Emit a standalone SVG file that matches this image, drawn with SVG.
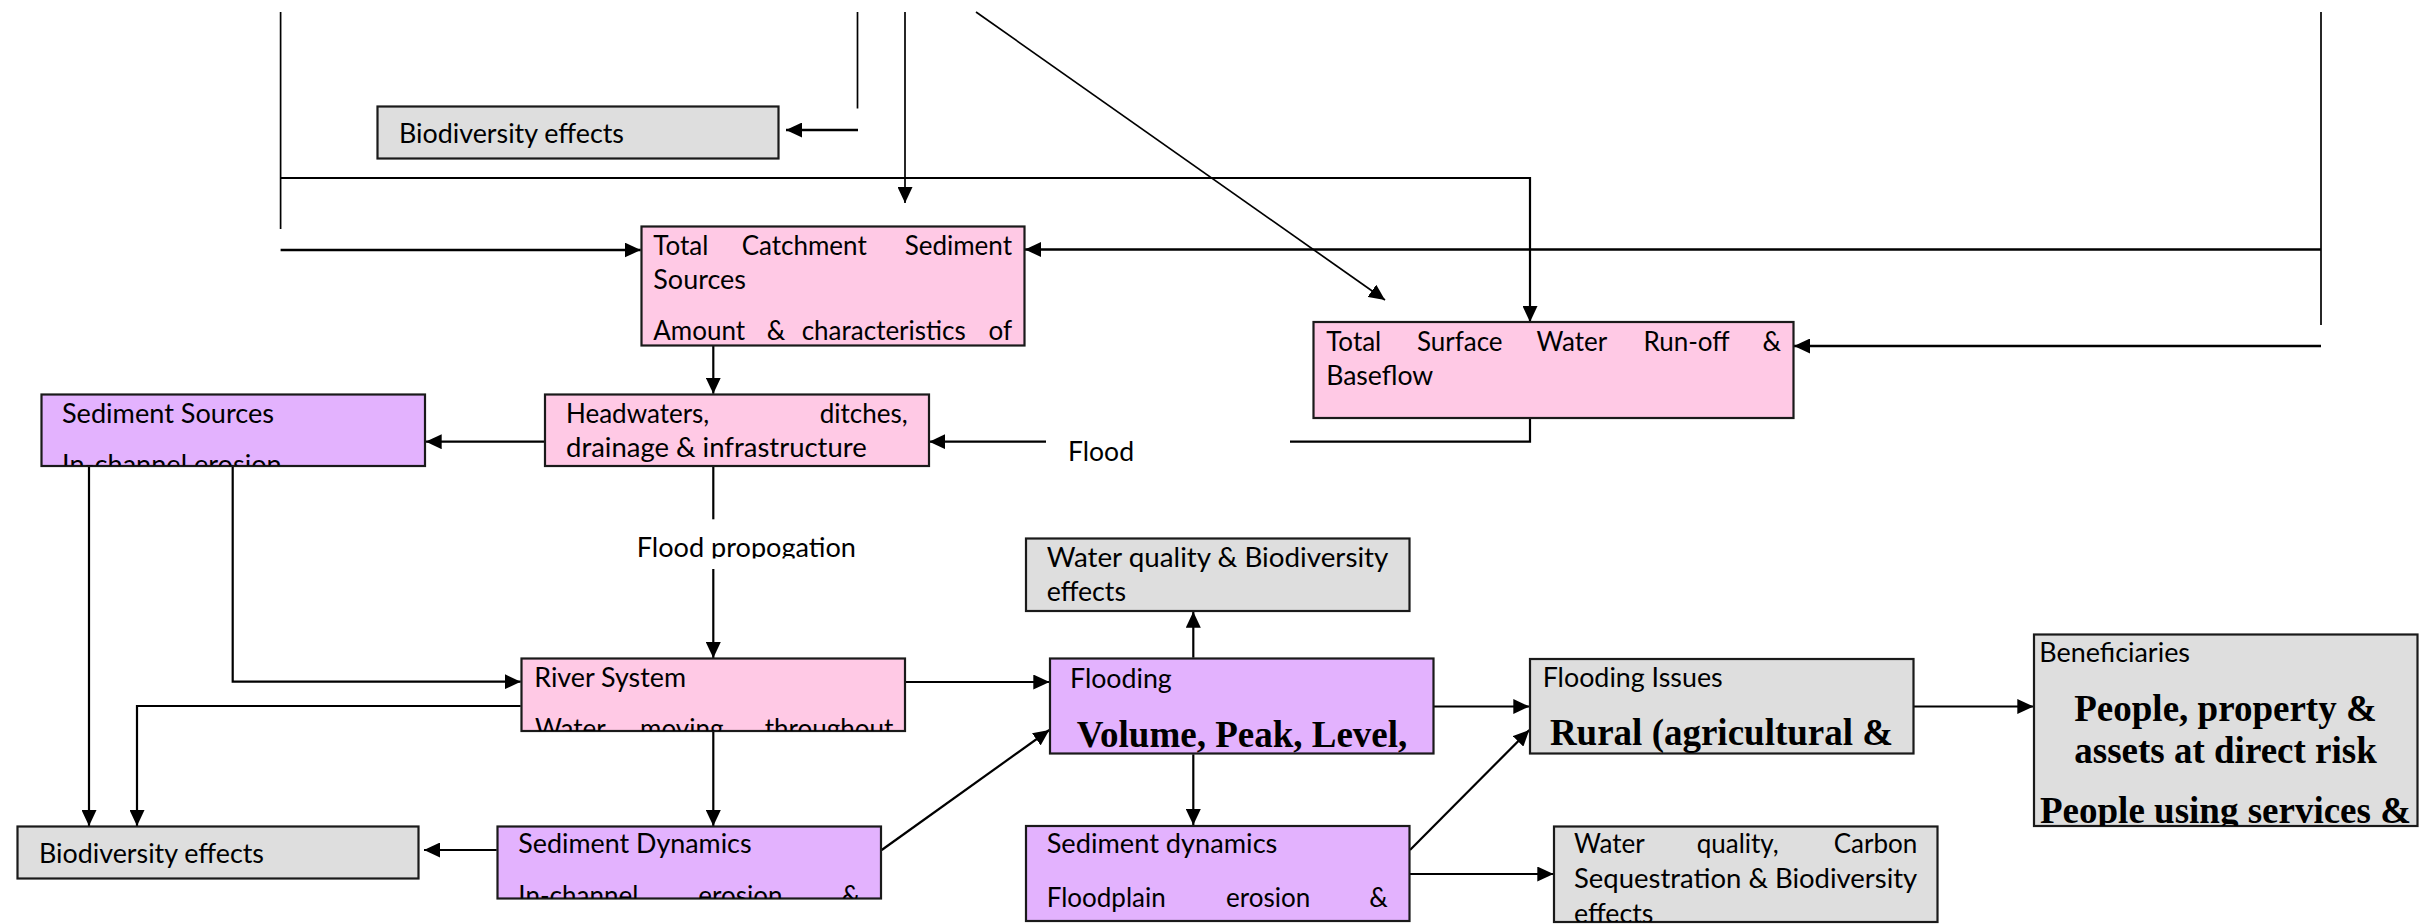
<svg xmlns="http://www.w3.org/2000/svg" width="2421" height="924" viewBox="0 0 2421 924">
  <style>
    .box { stroke: #1a1a1a; stroke-width: 2.2; }
    .pink { fill: #FFC9E5; }
    .purple { fill: #E3B2FE; }
    .grey { fill: #DEDEDE; }
    .t { font-family: Lato, "Open Sans", sans-serif; font-size: 26px; fill: #000; }
    .b { font-family: "Liberation Serif", "Times New Roman", serif; font-size: 37px; font-weight: bold; fill: #000; text-anchor: middle; }
    .end { text-anchor: end; }
    .ln { fill: none; stroke: #000; stroke-width: 2.2; }
    .thin { stroke-width: 1.7; }
    .thick { stroke-width: 2.6; }
    .arr { marker-end: url(#head); }
  </style>
  <defs>
    <marker id="head" markerUnits="userSpaceOnUse" markerWidth="16" markerHeight="15" refX="16" refY="7.5" orient="auto">
      <path d="M0,0 L16,7.5 L0,15 z" fill="#000"/>
    </marker>
    <clipPath id="c-catch"><rect x="642" y="227" width="382" height="118"/></clipPath>
    <clipPath id="c-surf"><rect x="1314" y="323" width="479" height="94"/></clipPath>
    <clipPath id="c-sedsrc"><rect x="42" y="395" width="383" height="70.5"/></clipPath>
    <clipPath id="c-head"><rect x="545" y="395" width="384" height="70.5"/></clipPath>
    <clipPath id="c-river"><rect x="522" y="659" width="383" height="72"/></clipPath>
    <clipPath id="c-seddyn"><rect x="498" y="827" width="383" height="71.5"/></clipPath>
    <clipPath id="c-flood"><rect x="1050" y="659" width="383" height="94.5"/></clipPath>
    <clipPath id="c-seddyn2"><rect x="1026" y="826.5" width="383" height="94.5"/></clipPath>
    <clipPath id="c-issues"><rect x="1530" y="659.5" width="383" height="94"/></clipPath>
    <clipPath id="c-carbon"><rect x="1554" y="827" width="383" height="95"/></clipPath>
    <clipPath id="c-benef"><rect x="2034" y="635" width="383" height="191"/></clipPath>
    <clipPath id="c-prop"><rect x="620" y="525" width="260" height="33.5"/></clipPath>
  </defs>

  <!-- connectors -->
  <g id="connectors">
    <path class="ln thin" d="M280.6,12 V229"/>
    <path class="ln arr" d="M280.6,178 H1530 V322"/>
    <path class="ln thick arr" d="M280.6,250 H640.7"/>
    <path class="ln thin" d="M857.5,12 V108.5"/>
    <path class="ln thick arr" d="M858,130 H786"/>
    <path class="ln thin arr" d="M905,12 V203"/>
    <path class="ln thin arr" d="M976,12 L1385,300"/>
    <path class="ln thin" d="M2321,12 V325"/>
    <path class="ln thick arr" d="M2321,249.5 H1025"/>
    <path class="ln thick arr" d="M2321,346 H1794"/>
    <path class="ln" d="M1530,418.3 V441.7 H1290"/>
    <path class="ln arr" d="M1046,441.7 H929.3"/>
    <path class="ln arr" d="M713.3,346 V393.7"/>
    <path class="ln arr" d="M544.3,441.7 H425.7"/>
    <path class="ln" d="M713.3,466 V519.3"/>
    <path class="ln arr" d="M713.3,569 V658"/>
    <path class="ln arr" d="M89,466.3 V826"/>
    <path class="ln arr" d="M232.7,466.3 V681.7 H520.7"/>
    <path class="ln arr" d="M520.7,706 H137 V826"/>
    <path class="ln arr" d="M905.7,682 H1049.3"/>
    <path class="ln arr" d="M713.3,731.7 V826"/>
    <path class="ln arr" d="M496.7,850 H424"/>
    <path class="ln arr" d="M881.7,850 L1049.3,730"/>
    <path class="ln arr" d="M1193.3,657.7 V611.7"/>
    <path class="ln arr" d="M1193.3,754.3 V825"/>
    <path class="ln arr" d="M1434,706.5 H1529.3"/>
    <path class="ln arr" d="M1410,850 L1529.3,730"/>
    <path class="ln arr" d="M1410,874 H1553.3"/>
    <path class="ln arr" d="M1914,706.5 H2033.3"/>
    <text class="t" x="1068" y="461" textLength="66" lengthAdjust="spacingAndGlyphs">Flood</text>
    <text class="t" x="636.7" y="556.7" textLength="219.3" lengthAdjust="spacingAndGlyphs" clip-path="url(#c-prop)">Flood propogation</text>
  </g>

  <g id="biodiversity-top">
    <rect class="box grey" x="377.5" y="106.5" width="401" height="52"/>
    <text class="t" x="399" y="143.3" textLength="225" lengthAdjust="spacingAndGlyphs">Biodiversity effects</text>
  </g>

  <g id="catchment-sediment">
    <rect class="box pink" x="641.5" y="226.5" width="383" height="119"/>
    <g clip-path="url(#c-catch)">
      <text class="t" y="255"><tspan x="653.3">Total</tspan><tspan x="741.7">Catchment</tspan></text>
      <text class="t end" x="1012" y="255">Sediment</text>
      <text class="t" x="653.3" y="289.3" textLength="92.7" lengthAdjust="spacingAndGlyphs">Sources</text>
      <text class="t" y="340"><tspan x="653.3">Amount</tspan><tspan x="766.7">&amp;</tspan><tspan x="801.7">characteristics</tspan></text>
      <text class="t end" x="1012" y="340">of</text>
    </g>
  </g>

  <g id="surface-runoff">
    <rect class="box pink" x="1313.5" y="322" width="480" height="96"/>
    <g clip-path="url(#c-surf)">
      <text class="t" y="350.7"><tspan x="1326.2">Total</tspan><tspan x="1416.9">Surface</tspan><tspan x="1536.5">Water</tspan><tspan x="1643.4">Run-off</tspan></text>
      <text class="t end" x="1781" y="350.7">&amp;</text>
      <text class="t" x="1326.2" y="385" textLength="107" lengthAdjust="spacingAndGlyphs">Baseflow</text>
    </g>
  </g>

  <g id="sediment-sources">
    <rect class="box purple" x="41.5" y="394.5" width="383.5" height="71.5"/>
    <g clip-path="url(#c-sedsrc)">
      <text class="t" x="62" y="422.7" textLength="212" lengthAdjust="spacingAndGlyphs">Sediment Sources</text>
      <text class="t" x="62" y="473.7" textLength="219.7" lengthAdjust="spacingAndGlyphs">In-channel erosion</text>
    </g>
  </g>

  <g id="headwaters">
    <rect class="box pink" x="545" y="394.5" width="384" height="71.5"/>
    <g clip-path="url(#c-head)">
      <text class="t" x="566" y="422.7">Headwaters,</text>
      <text class="t end" x="907.7" y="422.7">ditches,</text>
      <text class="t" x="566" y="456.7" textLength="300.7" lengthAdjust="spacingAndGlyphs">drainage &amp; infrastructure</text>
    </g>
  </g>

  <g id="river-system">
    <rect class="box pink" x="521.5" y="658.5" width="383.5" height="72.5"/>
    <g clip-path="url(#c-river)">
      <text class="t" x="534.3" y="686.7" textLength="151.7" lengthAdjust="spacingAndGlyphs">River System</text>
      <text class="t" y="738"><tspan x="535">Water</tspan><tspan x="640">moving</tspan></text>
      <text class="t end" x="893.3" y="738">throughout</text>
    </g>
  </g>

  <g id="biodiversity-bottom">
    <rect class="box grey" x="17.5" y="826.5" width="401" height="52"/>
    <text class="t" x="39" y="862.7" textLength="225" lengthAdjust="spacingAndGlyphs">Biodiversity effects</text>
  </g>

  <g id="sediment-dynamics-channel">
    <rect class="box purple" x="497.5" y="826.5" width="383.5" height="72"/>
    <g clip-path="url(#c-seddyn)">
      <text class="t" x="518.3" y="853.3" textLength="233.3" lengthAdjust="spacingAndGlyphs">Sediment Dynamics</text>
      <text class="t" y="905"><tspan x="518.3">In-channel</tspan><tspan x="698.3">erosion</tspan></text>
      <text class="t end" x="860" y="905">&amp;</text>
    </g>
  </g>

  <g id="water-quality-biodiversity">
    <rect class="box grey" x="1026" y="538.5" width="383.5" height="72.5"/>
    <text class="t" x="1046.7" y="566.7" textLength="341.7" lengthAdjust="spacingAndGlyphs">Water quality &amp; Biodiversity</text>
    <text class="t" x="1046.7" y="601" textLength="79.3" lengthAdjust="spacingAndGlyphs">effects</text>
  </g>

  <g id="flooding">
    <rect class="box purple" x="1050" y="658.5" width="383.5" height="95"/>
    <g clip-path="url(#c-flood)">
      <text class="t" x="1070" y="688.3" textLength="101.7" lengthAdjust="spacingAndGlyphs">Flooding</text>
      <text class="b" x="1242" y="746.7">Volume, Peak, Level,</text>
    </g>
  </g>

  <g id="sediment-dynamics-floodplain">
    <rect class="box purple" x="1026" y="826" width="383.5" height="95"/>
    <g clip-path="url(#c-seddyn2)">
      <text class="t" x="1046.7" y="853.3" textLength="230.7" lengthAdjust="spacingAndGlyphs">Sediment dynamics</text>
      <text class="t" y="906.7"><tspan x="1046.7">Floodplain</tspan><tspan x="1226">erosion</tspan></text>
      <text class="t end" x="1387.7" y="906.7">&amp;</text>
    </g>
  </g>

  <g id="flooding-issues">
    <rect class="box grey" x="1530" y="659" width="383.5" height="94.5"/>
    <g clip-path="url(#c-issues)">
      <text class="t" x="1542.7" y="686.7" textLength="180" lengthAdjust="spacingAndGlyphs">Flooding Issues</text>
      <text class="b" x="1721.5" y="745">Rural (agricultural &amp;</text>
    </g>
  </g>

  <g id="water-quality-carbon">
    <rect class="box grey" x="1554" y="826.5" width="383.5" height="95.5"/>
    <g clip-path="url(#c-carbon)">
      <text class="t" y="853.3"><tspan x="1574">Water</tspan><tspan x="1696.7">quality,</tspan></text>
      <text class="t end" x="1917.3" y="853.3">Carbon</text>
      <text class="t" x="1574" y="888.3" textLength="343.3" lengthAdjust="spacingAndGlyphs">Sequestration &amp; Biodiversity</text>
      <text class="t" x="1574" y="923.3" textLength="79.3" lengthAdjust="spacingAndGlyphs">effects</text>
    </g>
  </g>

  <g id="beneficiaries">
    <rect class="box grey" x="2034" y="634.5" width="383.5" height="191.5"/>
    <g clip-path="url(#c-benef)">
      <text class="t" x="2039.3" y="662.3" textLength="150.7" lengthAdjust="spacingAndGlyphs">Beneficiaries</text>
      <text class="b" x="2225.5" y="720.7">People, property &amp;</text>
      <text class="b" x="2225.5" y="763.3">assets at direct risk</text>
      <text class="b" x="2225.5" y="822.8">People using services &amp;</text>
    </g>
  </g>
</svg>
